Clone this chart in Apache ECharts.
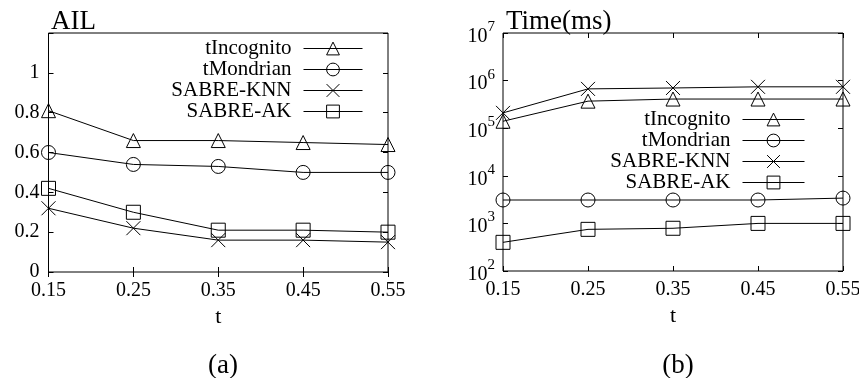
<!DOCTYPE html>
<html>
<head>
<meta charset="utf-8">
<script src="https://cdn.jsdelivr.net/npm/echarts@6/dist/echarts.min.js"></script>
<style>
  html, body { margin: 0; padding: 0; background: #fff; }
  #chart { width: 859px; height: 378px; }
</style>
</head>
<body>
<div id="chart"></div>
<script>
// Threshold t shared by both panels
const tValues = ['0.15', '0.25', '0.35', '0.45', '0.55'];
const seriesNames = ['tIncognito', 'tMondrian', 'SABRE-KNN', 'SABRE-AK'];

// (a) average information loss
const ailIncognito = [0.81, 0.66, 0.66, 0.65, 0.64];
const ailMondrian  = [0.60, 0.54, 0.53, 0.50, 0.50];
const ailKNN       = [0.32, 0.22, 0.16, 0.16, 0.15];
const ailAK        = [0.42, 0.30, 0.21, 0.21, 0.20];

// (b) running time in milliseconds
const timeIncognito = [1.4e5, 3.7e5, 4.1e5, 4.1e5, 4.1e5];
const timeMondrian  = [3.1e3, 3.1e3, 3.1e3, 3.1e3, 3.4e3];
const timeKNN       = [2.1e5, 6.7e5, 7.0e5, 7.4e5, 7.4e5];
const timeAK        = [4.0e2, 7.5e2, 7.9e2, 1.0e3, 1.0e3];

// AIL tick labels (the top of the range is left unlabelled)
const ailTicks = ['0', '0.2', '0.4', '0.6', '0.8', '1', ''];

const FONT = '"Liberation Serif", "DejaVu Serif", serif';
const crossPath = 'path://M0,0L10,10M10,0L0,10';
const symbols = ['triangle', 'circle', crossPath, 'rect'];

function lineSeries(name, idx, data, axisIdx) {
  return {
    name: name,
    type: 'line',
    xAxisIndex: axisIdx,
    yAxisIndex: axisIdx,
    data: data,
    symbol: symbols[idx],
    symbolSize: 14,
    showAllSymbol: true,
    animation: false,
    lineStyle: { color: '#000', width: 1 },
    itemStyle: { color: 'transparent', borderColor: '#000', borderWidth: 1 },
    emphasis: { disabled: true }
  };
}

const tickStyle = { show: true, inside: true, length: 5, lineStyle: { color: '#000', width: 1 } };
const labelStyle = { color: '#000', fontFamily: FONT, fontSize: 20 };

function bottomX(gridIndex) {
  return {
    type: 'category', gridIndex: gridIndex, data: tValues, boundaryGap: false,
    position: 'bottom',
    axisLine: { show: false },
    axisTick: Object.assign({ alignWithLabel: true }, tickStyle),
    axisLabel: Object.assign({ margin: 9 }, labelStyle),
    splitLine: { show: false },
    name: 't', nameLocation: 'middle', nameGap: 30,
    nameTextStyle: { color: '#000', fontFamily: FONT, fontSize: 22 }
  };
}
function topX(gridIndex) {
  return {
    type: 'category', gridIndex: gridIndex, data: tValues, boundaryGap: false,
    position: 'top',
    axisLine: { show: false },
    axisTick: tickStyle,
    axisLabel: { show: false },
    splitLine: { show: false }
  };
}

const supFormatter = function (v) {
  const e = Math.round(Math.log10(v));
  return '{b|10}{s|' + e + '}';
};
const supRich = {
  b: { fontFamily: FONT, fontSize: 20, color: '#000', verticalAlign: 'bottom', lineHeight: 27 },
  s: { fontFamily: FONT, fontSize: 15, color: '#000', verticalAlign: 'top', lineHeight: 27 }
};

const legendText = { fontFamily: FONT, fontSize: 21, color: '#000', lineHeight: 20, padding: [0, 7, 0, 0] };
const titleText = { fontFamily: FONT, fontSize: 27, fontWeight: 'normal', color: '#000' };

const option = {
  backgroundColor: '#fff',
  animation: false,
  title: [
    { text: 'AIL', left: 46, top: 3, textStyle: titleText },
    { text: 'Time(ms)', left: 501, top: 3, textStyle: titleText },
    { text: '(a)', left: 218, top: 347, textAlign: 'center', textStyle: titleText },
    { text: '(b)', left: 673, top: 347, textAlign: 'center', textStyle: titleText }
  ],
  legend: [
    {
      data: seriesNames, orient: 'vertical', align: 'right',
      right: 491, top: 33, itemWidth: 59, itemHeight: 16, itemGap: 0,
      textStyle: legendText,
      lineStyle: { width: 1, color: '#000' },
      itemStyle: { borderWidth: 1, borderColor: '#000', color: 'transparent' },
      selectedMode: false
    },
    {
      data: seriesNames, orient: 'vertical', align: 'right',
      right: 49, top: 104, itemWidth: 62, itemHeight: 16, itemGap: 0,
      textStyle: legendText,
      lineStyle: { width: 1, color: '#000' },
      itemStyle: { borderWidth: 1, borderColor: '#000', color: 'transparent' },
      selectedMode: false
    }
  ],
  grid: [
    { left: 48.5, right: 471, top: 33, bottom: 106, show: true, borderColor: '#000', borderWidth: 1, backgroundColor: 'transparent', outerBoundsMode: 'none' },
    { left: 503, right: 16, top: 33, bottom: 107, show: true, borderColor: '#000', borderWidth: 1, backgroundColor: 'transparent', outerBoundsMode: 'none' }
  ],
  xAxis: [bottomX(0), topX(0), bottomX(1), topX(1)],
  yAxis: [
    {
      type: 'value', gridIndex: 0, min: 0, max: 1.2, interval: 0.2, position: 'left',
      axisLine: { show: false }, axisTick: tickStyle, splitLine: { show: false },
      axisLabel: Object.assign({
        margin: 9, align: 'right', showMinLabel: true, showMaxLabel: true, hideOverlap: false,
        formatter: function (v, i) { return ailTicks[i] !== undefined ? ailTicks[i] : ''; }
      }, labelStyle)
    },
    {
      type: 'value', gridIndex: 0, min: 0, max: 1.2, interval: 0.2, position: 'right',
      axisLine: { show: false }, axisTick: tickStyle, splitLine: { show: false },
      axisLabel: { show: false }
    },
    {
      type: 'log', logBase: 10, gridIndex: 1, min: 100, max: 1e7, position: 'left',
      axisLine: { show: false }, axisTick: tickStyle, splitLine: { show: false },
      axisLabel: { margin: 8, align: 'right', formatter: supFormatter, rich: supRich }
    },
    {
      type: 'log', logBase: 10, gridIndex: 1, min: 100, max: 1e7, position: 'right',
      axisLine: { show: false }, axisTick: tickStyle, splitLine: { show: false },
      axisLabel: { show: false }
    }
  ],
  series: [
    lineSeries(seriesNames[0], 0, ailIncognito, 0),
    lineSeries(seriesNames[1], 1, ailMondrian, 0),
    lineSeries(seriesNames[2], 2, ailKNN, 0),
    lineSeries(seriesNames[3], 3, ailAK, 0),
    lineSeries(seriesNames[0], 0, timeIncognito, 2),
    lineSeries(seriesNames[1], 1, timeMondrian, 2),
    lineSeries(seriesNames[2], 2, timeKNN, 2),
    lineSeries(seriesNames[3], 3, timeAK, 2)
  ]
};

const chart = echarts.init(document.getElementById('chart'), null, { renderer: 'canvas' });
chart.setOption(option);
</script>
</body>
</html>
